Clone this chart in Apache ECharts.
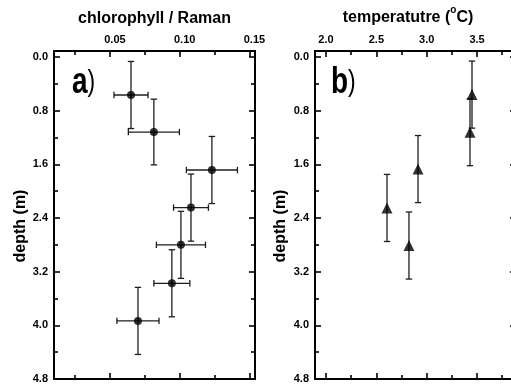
<!DOCTYPE html>
<html><head><meta charset="utf-8">
<script src="https://cdn.jsdelivr.net/npm/echarts@6/dist/echarts.min.js"></script>
<style>html,body{margin:0;padding:0;background:#fff}#c{width:511px;height:389px}</style>
</head><body><div id="c"></div>
<script>
// ---- Panel a: chlorophyll / Raman vs depth ----
const chlValues      = [0.0651, 0.0815, 0.1231, 0.1081, 0.1009, 0.0944, 0.0701];
const chlErrors      = [0.0122, 0.0183, 0.0183, 0.0125, 0.0176, 0.0129, 0.0151];
const chlDepths      = [0.566, 1.118, 1.684, 2.245, 2.80, 3.373, 3.934];
const chlDepthErrors = [0.50, 0.49, 0.50, 0.50, 0.50, 0.50, 0.50];
// ---- Panel b: temperature vs depth ----
const tempValues      = [3.45, 3.43, 2.914, 2.606, 2.824];
const tempDepths      = [0.56, 1.12, 1.67, 2.25, 2.81];
const tempDepthErrors = [0.50, 0.50, 0.50, 0.50, 0.50];
// ---- Ticks ----
const depthTicks      = [0.0, 0.8, 1.6, 2.4, 3.2, 4.0, 4.8];
const depthMinorTicks = [0.4, 1.2, 2.0, 2.8, 3.6, 4.4];
const chlTicks        = [0.05, 0.10, 0.15];
const chlMinorTicks   = [0.025, 0.075, 0.125];
const tempTicks       = [2.0, 2.5, 3.0, 3.5];
const tempMinorTicks  = [2.25, 2.75, 3.25, 3.75];

const FONT = '"Liberation Sans", Arial, sans-serif';
const DEPTH_MIN = -0.09, DEPTH_MAX = 4.8;

const lineStyle = {color: '#000', width: 2};
const tickStyle = {color: '#000', width: 1.6};
const labelStyle = {fontSize: 11, fontWeight: 'bold', fontFamily: FONT, color: '#000'};
const nameStyle = {fontSize: 16, fontWeight: 'bold', fontFamily: FONT, color: '#000'};

function xAxes(gridIndex, min, max, ticks, minor, digits, extra, labelPad) {
  const c = {type: 'value', gridIndex, min, max, splitLine: {show: false}};
  const major = (pos, withLabel) => Object.assign({}, c, {
    position: pos,
    axisLine: {show: true, onZero: false, lineStyle},
    axisTick: {show: true, inside: true, length: 6, customValues: ticks, lineStyle: tickStyle},
    axisLabel: withLabel ? Object.assign({show: true, customValues: ticks, margin: 6,
      formatter: v => (+v).toFixed(digits), padding: labelPad}, labelStyle) : {show: false}
  }, withLabel ? extra : {});
  const mnr = pos => Object.assign({}, c, {
    position: pos,
    axisLine: {show: false, onZero: false},
    axisTick: {show: true, inside: true, length: 4, customValues: minor, lineStyle: tickStyle},
    axisLabel: {show: false}
  });
  return [major('top', true), major('bottom', false), mnr('top'), mnr('bottom')];
}

function yAxes(gridIndex, gap) {
  const c = {type: 'value', gridIndex, min: DEPTH_MIN, max: DEPTH_MAX, inverse: true, splitLine: {show: false}};
  const major = (pos, withLabel) => Object.assign({}, c, {
    position: pos,
    axisLine: {show: true, onZero: false, lineStyle},
    axisTick: {show: true, inside: true, length: 6, customValues: depthTicks, lineStyle: tickStyle},
    axisLabel: withLabel ? Object.assign({show: true, customValues: depthTicks, margin: 6,
      formatter: v => (+v).toFixed(1)}, labelStyle) : {show: false}
  }, withLabel ? {
    name: 'depth (m)', nameLocation: 'middle', nameGap: gap,
    nameTextStyle: Object.assign({padding: [0, 22, 0, 0]}, nameStyle)
  } : {});
  const mnr = pos => Object.assign({}, c, {
    position: pos,
    axisLine: {show: false, onZero: false},
    axisTick: {show: true, inside: true, length: 4, customValues: depthMinorTicks, lineStyle: tickStyle},
    axisLabel: {show: false}
  });
  return [major('left', true), major('right', false), mnr('left'), mnr('right')];
}

function errRender(params, api) {
  const x = api.value(0), y = api.value(1), xe = api.value(2), ye = api.value(3);
  const cap = 3.2;
  const style = {stroke: '#1e1e1e', lineWidth: 1.3};
  const ch = [];
  const t = api.coord([x, y - ye]), b = api.coord([x, y + ye]);
  ch.push({type: 'line', shape: {x1: t[0], y1: t[1], x2: b[0], y2: b[1]}, style});
  ch.push({type: 'line', shape: {x1: t[0] - cap, y1: t[1], x2: t[0] + cap, y2: t[1]}, style});
  ch.push({type: 'line', shape: {x1: b[0] - cap, y1: b[1], x2: b[0] + cap, y2: b[1]}, style});
  if (xe > 0) {
    const l = api.coord([x - xe, y]), r = api.coord([x + xe, y]);
    ch.push({type: 'line', shape: {x1: l[0], y1: l[1], x2: r[0], y2: r[1]}, style});
    ch.push({type: 'line', shape: {x1: l[0], y1: l[1] - cap, x2: l[0], y2: l[1] + cap}, style});
    ch.push({type: 'line', shape: {x1: r[0], y1: r[1] - cap, x2: r[0], y2: r[1] + cap}, style});
  }
  return {type: 'group', children: ch};
}

const chlPoints = chlValues.map((v, i) => [v, chlDepths[i]]);
const chlErrData = chlValues.map((v, i) => [v, chlDepths[i], chlErrors[i], chlDepthErrors[i]]);
const tempPoints = tempValues.map((v, i) => [v, tempDepths[i]]);
const tempErrData = tempValues.map((v, i) => [v, tempDepths[i], 0, tempDepthErrors[i]]);

const panelLetter = (letter, x) => ({
  type: 'text', x: x, y: 101, scaleY: 1.3, originX: 0, originY: 0,
  style: {text: '{b|' + letter + '}{n|)}', verticalAlign: 'bottom', fill: '#000',
    rich: {b: {fontSize: 28, fontWeight: 'bold', fontFamily: FONT, fill: '#000'},
           n: {fontSize: 23, fontWeight: 'normal', fontFamily: FONT, fill: '#000'}}}
});

const chart = echarts.init(document.getElementById('c'), null, {renderer: 'canvas'});
chart.setOption({
  animation: false,
  backgroundColor: '#fff',
  grid: [
    {left: 54, top: 51, width: 201, height: 328, outerBoundsMode: 'none', containLabel: false},
    {left: 315, top: 51, width: 201, height: 328, outerBoundsMode: 'none', containLabel: false}
  ],
  xAxis: [].concat(
    xAxes(0, 0.0099, 0.154, chlTicks, chlMinorTicks, 2, {
      name: 'chlorophyll / Raman', nameLocation: 'middle', nameGap: 24,
      nameTextStyle: nameStyle
    }, [0, 0, 0, 10]),
    xAxes(1, 1.8907, 3.887, tempTicks, tempMinorTicks, 1, {
      name: 'temperatutre ({sup|o}C)', nameLocation: 'middle', nameGap: 20,
      nameTextStyle: Object.assign({
        padding: [0, 15, 0, 0],
        lineHeight: 24,
        rich: {sup: {fontSize: 10, fontWeight: 'bold', fontFamily: FONT, color: '#000',
          verticalAlign: 'top', lineHeight: 12}}}, nameStyle)
    }, 0)
  ),
  yAxis: [].concat(yAxes(0, 25), yAxes(1, 26)),
  series: [
    {type: 'custom', xAxisIndex: 0, yAxisIndex: 0, renderItem: errRender,
     data: chlErrData, encode: {x: 0, y: 1}, z: 2, silent: true},
    {type: 'scatter', xAxisIndex: 0, yAxisIndex: 0, data: chlPoints,
     symbol: 'circle', symbolSize: 8, itemStyle: {color: '#000'}, z: 3},
    {type: 'custom', xAxisIndex: 4, yAxisIndex: 4, renderItem: errRender,
     data: tempErrData, encode: {x: 0, y: 1}, z: 2, silent: true},
    {type: 'scatter', xAxisIndex: 4, yAxisIndex: 4, data: tempPoints,
     symbol: 'triangle', symbolSize: 11, itemStyle: {color: '#000'}, z: 3}
  ],
  graphic: [panelLetter('a', 72), panelLetter('b', 331)]
});
</script></body></html>
